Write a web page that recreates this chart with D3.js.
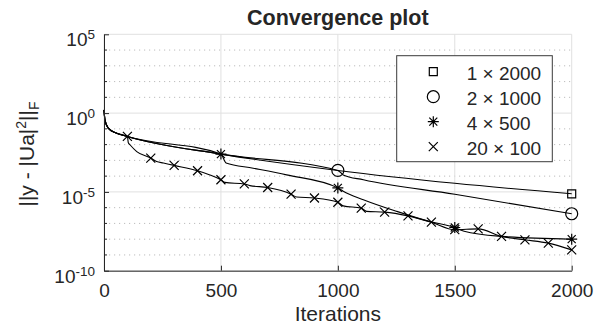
<!DOCTYPE html>
<html><head><meta charset="utf-8">
<script src="https://cdn.jsdelivr.net/npm/d3@7"></script>
<style>
body{margin:0;background:#fff}
svg{display:block}
text{font-family:"Liberation Sans",Arial,Helvetica,sans-serif;fill:#262626}
</style>
</head><body>
<svg id="c" width="612" height="326"></svg>
<script>
// ---- data ----
const titleText = "Convergence plot";
const xLabelText = "Iterations";
const xTicks = [0, 500, 1000, 1500, 2000];
const yMajorExps = [-10, -5, 0, 5];
const yMinorExps = [-9, -8, -7, -6, -4, -3, -2, -1, 1, 2, 3, 4];
const seriesLabels = ["1 × 2000", "2 × 1000", "4 × 500", "20 × 100"];
const seriesMarkers = ["square", "circle", "star", "cross"];

const s1Iters  = [0, 4, 18, 47, 100, 500, 1000, 1500, 2000];
const s1Values = [1.6, 0.37, 0.11, 0.059, 0.033, 2.5e-3, 2.3e-4, 3.5e-5, 7.6e-6];
const s1Marks  = [2000];

const s2Iters  = [0, 4, 18, 47, 100, 500, 1000, 1023, 1109, 1500, 2000];
const s2Values = [1.6, 0.37, 0.11, 0.059, 0.033, 2.5e-3, 2.3e-4, 1.2e-4, 5.9e-5, 7.1e-6, 4.1e-7];
const s2Marks  = [1000, 2000];

const s3Iters  = [0, 4, 18, 47, 100, 500, 522, 638, 781, 1000, 1023, 1109, 1252, 1394, 1500, 1540, 1700, 2000];
const s3Values = [1.6, 0.37, 0.11, 0.059, 0.033, 2.5e-3, 6.8e-4, 3.2e-4, 1.2e-4, 1.8e-5, 1.1e-5, 3.2e-6, 5.8e-7, 1.3e-7, 5.5e-8, 3.2e-8, 1.5e-8, 1.0e-8];
const s3Marks  = [500, 1000, 1500, 2000];

const s4Iters  = [0, 4, 18, 47, 100, 104, 111, 140, 200, 225, 254, 300, 400, 453, 500, 517, 600, 624, 700, 800, 824, 900, 1000, 1023, 1100, 1123, 1200, 1300, 1400, 1500, 1600, 1700, 1800, 1900, 2000];
const s4Values = [1.6, 0.37, 0.11, 0.059, 0.033, 1.3e-2, 9.8e-3, 3.6e-3, 1.4e-3, 8.5e-4, 6.8e-4, 4.8e-4, 2.2e-4, 1.2e-4, 5.9e-5, 4.0e-5, 3.2e-5, 2.5e-5, 1.9e-5, 7.2e-6, 4.7e-6, 4.1e-6, 2.2e-6, 1.3e-6, 9.3e-7, 5.8e-7, 5.2e-7, 3.0e-7, 1.2e-7, 4.0e-8, 4.5e-8, 1.5e-8, 9.1e-9, 5.6e-9, 2.1e-9];
const s4Marks  = [100, 200, 300, 400, 500, 600, 700, 800, 900, 1000, 1100, 1200, 1300, 1400, 1500, 1600, 1700, 1800, 1900, 2000];

// ---- layout ----
const L = 104, R = 571.7, T = 34.3, B = 270.7;
const svg = d3.select("#c");
const x = d3.scaleLinear().domain([0, 2000]).range([L, R]);
const y = d3.scaleLog().domain([1e-10, 1e5]).range([B, T]);

const series = [
  {iters: s1Iters, values: s1Values, marks: s1Marks},
  {iters: s2Iters, values: s2Values, marks: s2Marks},
  {iters: s3Iters, values: s3Values, marks: s3Marks},
  {iters: s4Iters, values: s4Values, marks: s4Marks}
].map((s, i) => ({...s, label: seriesLabels[i], marker: seriesMarkers[i]}));

// grid
const grid = svg.append("g");
grid.selectAll("line.ymin").data(yMinorExps).join("line")
  .attr("x1", L).attr("x2", R)
  .attr("y1", d => y(Math.pow(10, d))).attr("y2", d => y(Math.pow(10, d)))
  .attr("stroke", "#bdbdbd").attr("stroke-width", 1).attr("stroke-dasharray", "1.2,3.8");
grid.selectAll("line.ymaj").data(yMajorExps).join("line")
  .attr("x1", L).attr("x2", R)
  .attr("y1", d => y(Math.pow(10, d))).attr("y2", d => y(Math.pow(10, d)))
  .attr("stroke", "#e0e0e0").attr("stroke-width", 1);
grid.selectAll("line.xmaj").data(xTicks).join("line")
  .attr("x1", d => x(d)).attr("x2", d => x(d))
  .attr("y1", T).attr("y2", B)
  .attr("stroke", "#e0e0e0").attr("stroke-width", 1);

// lines
const line = d3.line().x(d => x(d[0])).y(d => y(d[1])).curve(d3.curveMonotoneX);
svg.append("g").selectAll("path").data(series).join("path")
  .attr("d", s => line(s.iters.map((it, j) => [it, s.values[j]])))
  .attr("fill", "none").attr("stroke", "#000").attr("stroke-width", 1.1);

// axes
const xAxis = d3.axisBottom(x).tickValues(xTicks).tickSizeInner(-5).tickSizeOuter(0).tickPadding(13).tickFormat(d3.format("d"));
const gx = svg.append("g").attr("transform", `translate(0,${B})`).call(xAxis);
gx.select(".domain").attr("stroke", "#262626");
gx.selectAll(".tick line").attr("stroke", "#262626");
gx.selectAll(".tick text").attr("font-size", 19).attr("font-family", "Liberation Sans, Arial, sans-serif").attr("fill", "#262626");

const yAxis = d3.axisLeft(y).tickValues(yMajorExps.map(e => Math.pow(10, e))).tickSizeInner(-5).tickSizeOuter(0).tickPadding(9).tickFormat(() => "");
const gy = svg.append("g").attr("transform", `translate(${L},0)`).call(yAxis);
gy.select(".domain").attr("stroke", "#262626");
gy.selectAll(".tick line").attr("stroke", "#262626");
gy.selectAll(".tick text").remove();
gy.selectAll(".tick").each(function(d) {
  const e = Math.round(Math.log10(d));
  const t = d3.select(this).append("text")
    .attr("x", -9).attr("y", 11.5).attr("text-anchor", "end")
    .attr("font-size", 19).attr("fill", "#262626");
  t.append("tspan").text("10");
  t.append("tspan").attr("font-size", 13.5).attr("dy", -7).text(String(e).replace("-", "-"));
});
// minor ticks on y
svg.append("g").selectAll("line").data(yMinorExps).join("line")
  .attr("x1", L).attr("x2", L + 3)
  .attr("y1", d => y(Math.pow(10, d))).attr("y2", d => y(Math.pow(10, d)))
  .attr("stroke", "#262626");

// markers
function markerPath(type) {
  const p = d3.path();
  if (type === "square") { p.rect(-4, -4, 8, 8); }
  else if (type === "circle") { p.arc(0, 0, 6, 0, 2 * Math.PI); }
  else if (type === "cross") { const r = 4.5; p.moveTo(-r, -r); p.lineTo(r, r); p.moveTo(-r, r); p.lineTo(r, -r); }
  else if (type === "star") {
    const r = 5.5, q = 4;
    p.moveTo(0, -r); p.lineTo(0, r); p.moveTo(-r, 0); p.lineTo(r, 0);
    p.moveTo(-q, -q); p.lineTo(q, q); p.moveTo(-q, q); p.lineTo(q, -q);
  }
  return p.toString();
}
const mg = svg.append("g");
series.forEach(s => {
  mg.append("g").selectAll("path").data(s.marks).join("path")
    .attr("transform", m => `translate(${x(m)},${y(s.values[s.iters.indexOf(m)])})`)
    .attr("d", markerPath(s.marker))
    .attr("fill", "none").attr("stroke", "#000").attr("stroke-width", 1.2);
});

// title & labels
svg.append("text").attr("x", (L + R) / 2).attr("y", 25).attr("text-anchor", "middle")
  .attr("font-size", 21.5).attr("font-weight", "bold").attr("fill", "#000").text(titleText);
svg.append("text").attr("x", (L + R) / 2).attr("y", 321).attr("text-anchor", "middle")
  .attr("font-size", 21).text(xLabelText);
const yl = svg.append("text").attr("transform", "translate(33.5,154) rotate(-90)")
  .attr("text-anchor", "middle").attr("font-size", 21);
yl.append("tspan").text("||y - |Ua|");
yl.append("tspan").attr("font-size", 14).attr("dy", -8).text("2");
yl.append("tspan").attr("dy", 8).text("||");
yl.append("tspan").attr("font-size", 14).attr("dy", 5).text("F");

// legend
const lg = svg.append("g");
lg.append("rect").attr("x", 396.7).attr("y", 55.7).attr("width", 155.6).attr("height", 106)
  .attr("fill", "#fff").attr("stroke", "#3a3a3a").attr("stroke-width", 1);
series.forEach((s, i) => {
  const cy = 71.7 + i * 25;
  lg.append("path").attr("transform", `translate(433.3,${cy})`).attr("d", markerPath(s.marker))
    .attr("fill", "none").attr("stroke", "#000").attr("stroke-width", 1.2);
  lg.append("text").attr("x", 466.7).attr("y", cy + 8).attr("font-size", 19).attr("fill", "#000").text(s.label);
});
</script>
</body></html>
